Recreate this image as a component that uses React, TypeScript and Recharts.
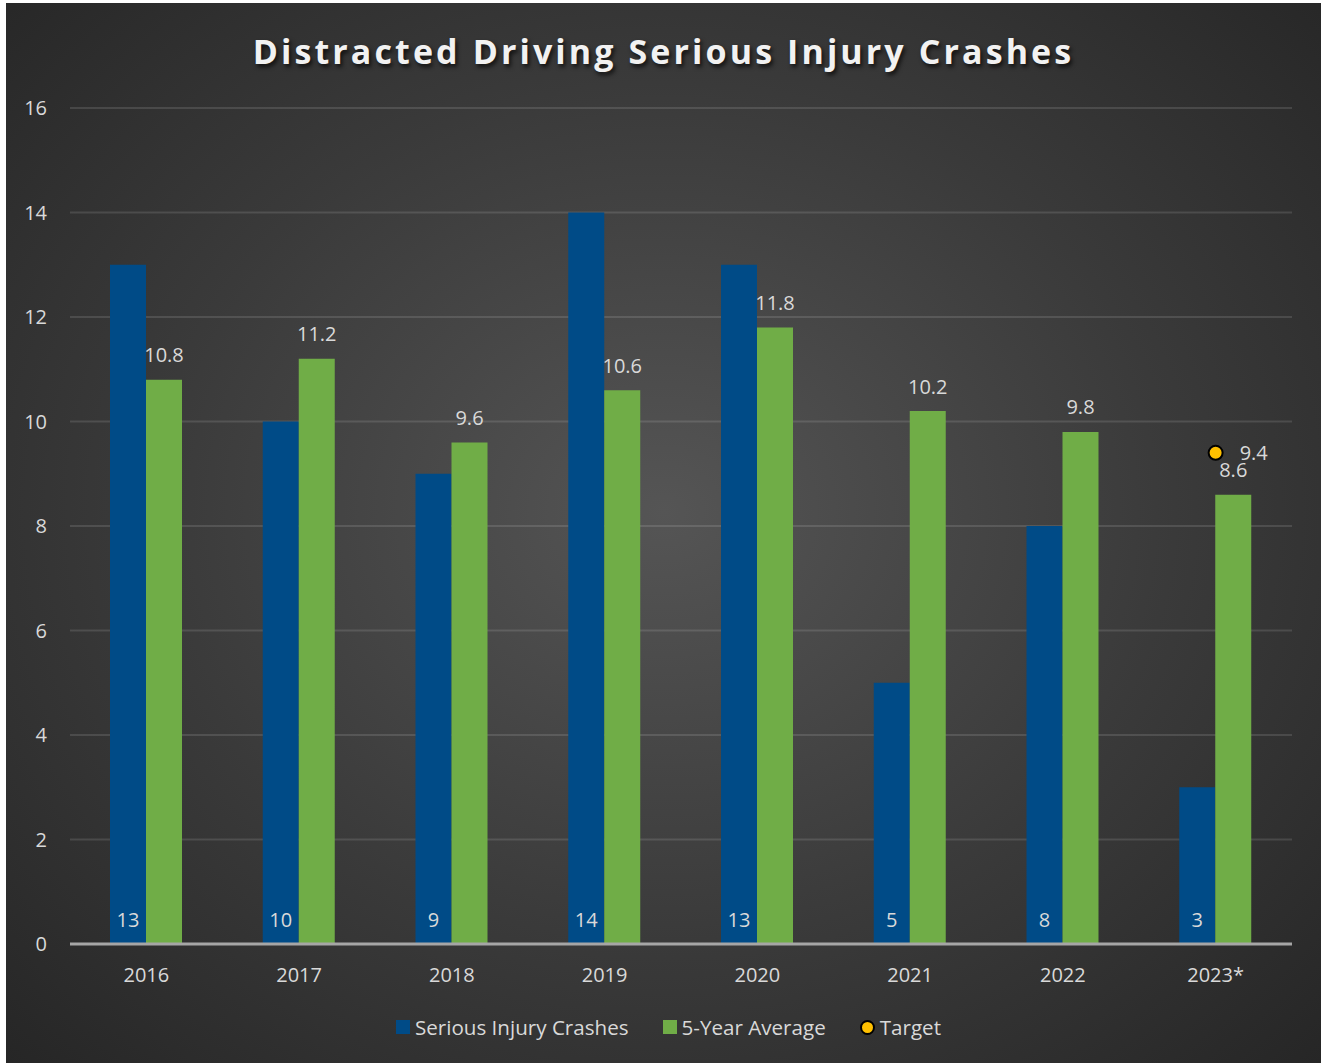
import {
  ComposedChart,
  Bar,
  Line,
  XAxis,
  YAxis,
  CartesianGrid,
  Legend,
  LabelList,
} from 'recharts'

const years = ['2016', '2017', '2018', '2019', '2020', '2021', '2022', '2023*']
const crashes = [13, 10, 9, 14, 13, 5, 8, 3]
const fiveYearAvg = [10.8, 11.2, 9.6, 10.6, 11.8, 10.2, 9.8, 8.6]
const target = [null, null, null, null, null, null, null, 9.4]
const yTicks = [0, 2, 4, 6, 8, 10, 12, 14, 16]

const BLUE = '#004B87'
const GREEN = '#70AD47'
const GOLD = '#FFC000'
const TEXT = '#d9d9d9'
const FONT = '"Open Sans", sans-serif'

const data = years.map((y, i) => ({
  year: y,
  crashes: crashes[i],
  avg: fiveYearAvg[i],
  target: target[i],
}))

const BaseLabel = (p: any) => {
  const { x, y, width, height, value } = p
  return (
    <text x={x + width / 2} y={y + height - 25} textAnchor="middle" dominantBaseline="central" fill={TEXT} fontSize={20} fontFamily={FONT}>
      {value}
    </text>
  )
}

const TopLabel = (p: any) => {
  const { x, y, width, value } = p
  return (
    <text x={x + width / 2} y={y - 25} textAnchor="middle" dominantBaseline="central" fill={TEXT} fontSize={20} fontFamily={FONT}>
      {value}
    </text>
  )
}

const TargetLabel = (p: any) => {
  const { x, y, value } = p
  if (value == null) return null
  return (
    <text x={x + 24} y={y} textAnchor="start" dominantBaseline="central" fill={TEXT} fontSize={20} fontFamily={FONT}>
      {value}
    </text>
  )
}

const TargetDot = (p: any) => {
  const { cx, cy, payload, index } = p
  if (payload.target == null) return <g key={index} />
  return <circle key={index} cx={cx} cy={cy} r={7} fill={GOLD} stroke="#000" strokeWidth={2} />
}

const LegendContent = () => {
  const items = [
    { label: 'Serious Injury Crashes', kind: 'sq', color: BLUE },
    { label: '5-Year Average', kind: 'sq', color: GREEN },
    { label: 'Target', kind: 'dot', color: GOLD },
  ]
  return (
    <div style={{ display: 'flex', justifyContent: 'center', gap: 34, marginLeft: 39, fontFamily: FONT, fontSize: 20.6, color: TEXT }}>
      {items.map((it) => (
        <div key={it.label} style={{ display: 'flex', alignItems: 'center', gap: 5 }}>
          {it.kind === 'sq' ? (
            <span style={{ width: 14, height: 14, background: it.color, display: 'inline-block' }} />
          ) : (
            <span style={{ width: 11, height: 11, borderRadius: '50%', background: it.color, border: '2px solid #000', display: 'inline-block' }} />
          )}
          <span>{it.label}</span>
        </div>
      ))}
    </div>
  )
}

export default function App() {
  return (
    <div
      style={{
        position: 'absolute',
        left: 6,
        top: 3,
        width: 1315,
        height: 1060,
        background: 'radial-gradient(ellipse at 50% 48%, #555555 0%, #3a3a3a 55%, #262626 100%)',
      }}
    >
      <div
        style={{
          position: 'absolute',
          top: 25,
          left: 0,
          width: 1315,
          textAlign: 'center',
          fontFamily: FONT,
          fontWeight: 700,
          fontSize: 34,
          letterSpacing: 3.1,
          color: '#f2f2f2',
          textShadow: '2px 3px 4px rgba(0,0,0,0.7)',
        }}
      >
        Distracted Driving Serious Injury Crashes
      </div>
      <ComposedChart
        width={1315}
        height={1060}
        data={data}
        margin={{ top: 105, right: 29, left: 0, bottom: 41 }}
        barCategoryGap={40}
        barGap={0}
      >
        <CartesianGrid vertical={false} stroke="rgba(255,255,255,0.12)" strokeWidth={2} />
        <XAxis
          dataKey="year"
          height={50}
          tickLine={false}
          tickSize={0}
          tickMargin={24}
          axisLine={{ stroke: '#a6a6a6', strokeWidth: 3 }}
          tick={{ fill: TEXT, fontSize: 20, fontFamily: FONT }}
        />
        <YAxis
          width={64}
          domain={[0, 16]}
          ticks={yTicks}
          interval={0}
          tickLine={false}
          tickSize={0}
          tickMargin={23}
          axisLine={false}
          tick={{ fill: TEXT, fontSize: 20, fontFamily: FONT }}
        />
        <Legend verticalAlign="bottom" content={<LegendContent />} wrapperStyle={{ bottom: 22 }} />
        <Bar dataKey="crashes" name="Serious Injury Crashes" fill={BLUE} isAnimationActive={false}>
          <LabelList dataKey="crashes" content={<BaseLabel />} />
        </Bar>
        <Bar dataKey="avg" name="5-Year Average" fill={GREEN} isAnimationActive={false}>
          <LabelList dataKey="avg" content={<TopLabel />} />
        </Bar>
        <Line
          dataKey="target"
          name="Target"
          stroke="none"
          dot={TargetDot}
          activeDot={false}
          isAnimationActive={false}
        >
          <LabelList dataKey="target" content={<TargetLabel />} />
        </Line>
      </ComposedChart>
    </div>
  )
}
